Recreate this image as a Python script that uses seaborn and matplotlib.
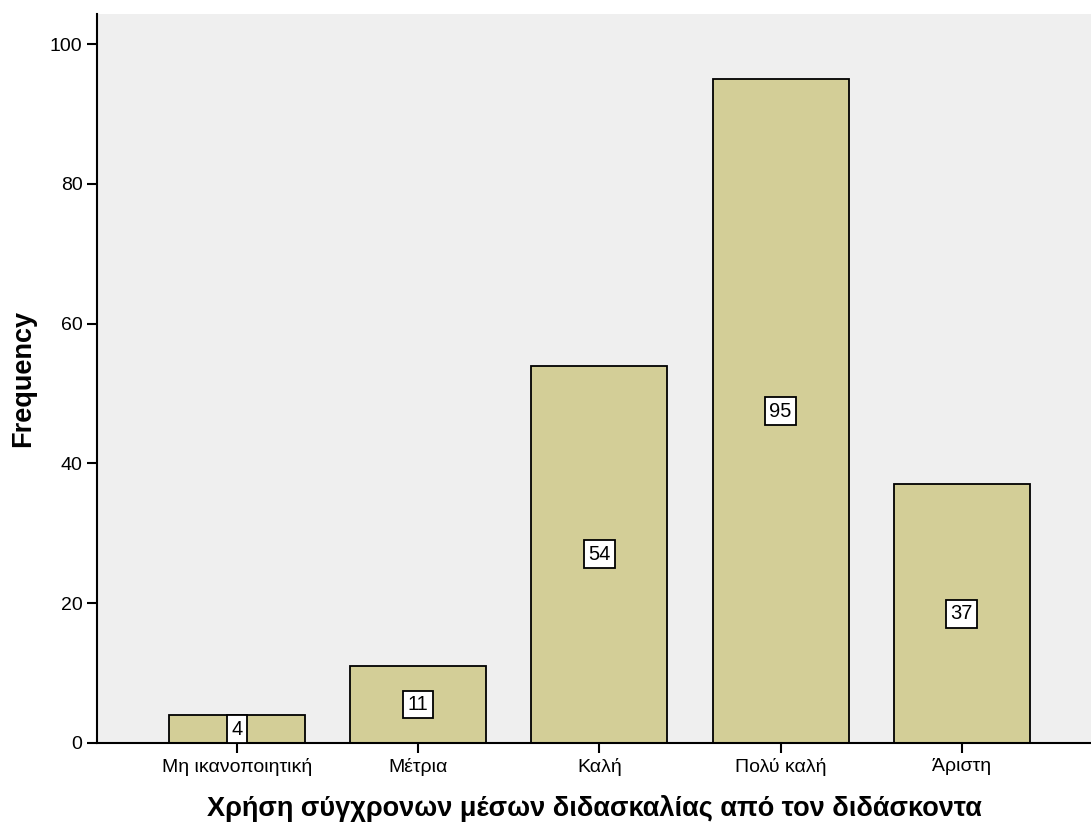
import matplotlib
matplotlib.use('Agg')
import matplotlib.pyplot as plt
import pandas as pd
import seaborn as sns

# Category labels and frequencies
categories = ['Μη ικανοποιητική', 'Μέτρια', 'Καλή', 'Πολύ καλή', 'Άριστη']
counts = [4, 11, 54, 95, 37]
y_ticks = [0, 20, 40, 60, 80, 100]

df = pd.DataFrame({'cat': categories, 'freq': counts})

sns.set_style('ticks')
plt.rcParams['font.family'] = ['Liberation Sans', 'DejaVu Sans']
plt.rcParams['text.color'] = 'black'
plt.rcParams['axes.labelcolor'] = 'black'

fig = plt.figure(figsize=(10.91, 8.25), dpi=100)
ax = fig.add_axes([0.0889, 0.0994, 0.9111, 0.8836])
ax.set_facecolor('#EFEFEF')

sns.barplot(data=df, x='cat', y='freq', ax=ax, color='#D3CE97', width=0.75,
            saturation=1, edgecolor='black', linewidth=1.3, zorder=2)

# Value labels in white boxes at mid-height of each bar
for i, v in enumerate(counts):
    ax.text(i, v / 2, str(v), ha='center', va='center', fontsize=14.5, color='black', zorder=3,
            bbox=dict(boxstyle='square,pad=0.22', fc='white', ec='black', lw=1.3))

ax.set_xlim(-0.773, 4.713)
ax.set_ylim(0, 104.3)
ax.set_yticks(y_ticks)
ax.tick_params(axis='both', direction='out', length=7, width=1.5, labelsize=14,
               colors='black', labelcolor='black')
ax.set_xlabel('Χρήση σύγχρονων μέσων διδασκαλίας από τον διδάσκοντα',
              fontsize=19.5, fontweight='bold', labelpad=14, color='black')
ax.set_ylabel('Frequency', fontsize=19.5, fontweight='bold', labelpad=10, color='black')

for s in ['top', 'right']:
    ax.spines[s].set_visible(False)
for s in ['left', 'bottom']:
    ax.spines[s].set_linewidth(1.5)
    ax.spines[s].set_color('black')

fig.savefig('out.png', dpi=100)
